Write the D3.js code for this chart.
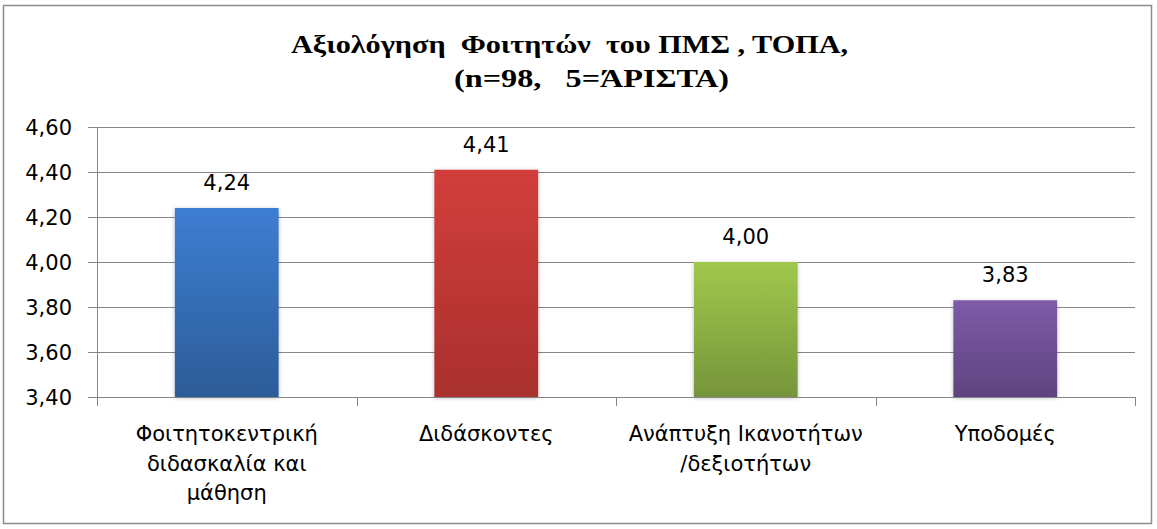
<!DOCTYPE html>
<html>
<head>
<meta charset="utf-8">
<style>
  body { margin: 0; background: #fff; }
  svg { display: block; }
  .tick text { font-family: "DejaVu Sans", sans-serif; font-size: 21px; fill: #000; }
</style>
</head>
<body>
<svg width="1157" height="529"></svg>
<script src="https://d3js.org/d3.v7.min.js"></script>
<script>
var categories = [
  ["Φοιτητοκεντρική", "διδασκαλία και", "μάθηση"],
  ["Διδάσκοντες"],
  ["Ανάπτυξη Ικανοτήτων", "/δεξιοτήτων"],
  ["Υποδομές"]
];
var values = [4.24, 4.41, 4.00, 3.83];
var yTicks = [3.4, 3.6, 3.8, 4.0, 4.2, 4.4, 4.6];
var barColors = [["#3d7ed2", "#2c5c98"], ["#d23e3b", "#a9302d"], ["#a0c84c", "#76953a"], ["#7f5ba9", "#5e437f"]];
var titleLines = ["Αξιολόγηση  Φοιτητών  του ΠΜΣ , ΤΟΠΑ,", "(n=98,   5=ΆΡΙΣΤΑ)"];

var svg = d3.select("svg");
var margin = {top: 127, right: 22, bottom: 132, left: 97},
    width = 1157 - margin.left - margin.right,
    height = 529 - margin.top - margin.bottom;

var labelFont = "'DejaVu Sans', sans-serif";

// outer frame
svg.append("rect")
  .attr("x", 3.5).attr("y", 5.5)
  .attr("width", 1148).attr("height", 518)
  .attr("fill", "#fff").attr("stroke", "#8c8c8c").attr("stroke-width", 1.5);

// title, stretched like the original (Times bold, wide)
var titlePos = [{x: 291, y: 53, w: 557}, {x: 454, y: 87, w: 275}];
svg.append("g")
  .attr("font-family", "'Liberation Serif', 'Times New Roman', serif")
  .attr("font-weight", "bold")
  .attr("font-size", 26)
  .selectAll("text").data(titleLines).enter().append("text")
  .attr("x", function(d, i) { return titlePos[i].x; })
  .attr("y", function(d, i) { return titlePos[i].y; })
  .attr("textLength", function(d, i) { return titlePos[i].w; })
  .attr("lengthAdjust", "spacingAndGlyphs")
  .style("white-space", "pre")
  .text(function(d) { return d; });

var defs = svg.append("defs");
barColors.forEach(function(c, i) {
  var grad = defs.append("linearGradient").attr("id", "g" + i)
    .attr("x1", 0).attr("y1", 0).attr("x2", 0).attr("y2", 1);
  grad.append("stop").attr("offset", "0%").attr("stop-color", c[0]);
  grad.append("stop").attr("offset", "100%").attr("stop-color", c[1]);
});
var shadow = defs.append("filter").attr("id", "shadow")
  .attr("x", "-20%").attr("y", "-10%").attr("width", "140%").attr("height", "125%");
shadow.append("feDropShadow").attr("dx", 0).attr("dy", 1).attr("stdDeviation", 2)
  .attr("flood-color", "#000").attr("flood-opacity", 0.25);

var g = svg.append("g").attr("transform", "translate(" + margin.left + "," + margin.top + ")");

var x = d3.scaleBand()
  .domain(d3.range(values.length))
  .range([0, width])
  .paddingInner(0.6)
  .paddingOuter(0.3);

var y = d3.scaleLinear()
  .domain([3.4, 4.6])
  .range([height, 0]);

var fmt = function(v) { return d3.format(".2f")(v).replace(".", ","); };

// gridlines
g.append("g")
  .selectAll("line").data(yTicks.slice(1)).enter().append("line")
  .attr("x1", 0).attr("x2", width)
  .attr("y1", function(d) { return Math.round(y(d)) + 0.5; })
  .attr("y2", function(d) { return Math.round(y(d)) + 0.5; })
  .attr("stroke", "#868686").attr("stroke-width", 1);

// y axis
var yAxis = g.append("g")
  .call(d3.axisLeft(y).tickValues(yTicks).tickFormat(fmt).tickSize(9).tickPadding(16));
yAxis.selectAll("line, path").attr("stroke", "#868686");
yAxis.select(".domain").attr("d", "M0.5," + height + "V0.5");
yAxis.selectAll(".tick text").attr("dy", "0.36em");

// bars
g.append("g")
  .selectAll("rect").data(values).enter().append("rect")
  .attr("x", function(d, i) { return x(i); })
  .attr("y", function(d) { return y(d); })
  .attr("width", x.bandwidth())
  .attr("height", function(d) { return height - y(d); })
  .attr("fill", function(d, i) { return "url(#g" + i + ")"; })
  .attr("filter", "url(#shadow)");

// value labels
g.append("g")
  .selectAll("text").data(values).enter().append("text")
  .attr("x", function(d, i) { return x(i) + x.bandwidth() / 2; })
  .attr("y", function(d) { return y(d) - 18; })
  .attr("text-anchor", "middle")
  .attr("font-family", labelFont)
  .attr("font-size", 21)
  .text(fmt);

// x axis
var xAxisG = g.append("g").attr("transform", "translate(0," + height + ")");
xAxisG.append("line").attr("x1", 0).attr("x2", width)
  .attr("y1", 0.5).attr("y2", 0.5).attr("stroke", "#868686");
var step = x.step();
xAxisG.selectAll(".xt").data(d3.range(values.length + 1)).enter().append("line")
  .attr("x1", function(i) { return Math.round(i * step) + 0.5; })
  .attr("x2", function(i) { return Math.round(i * step) + 0.5; })
  .attr("y1", 0).attr("y2", 9).attr("stroke", "#868686");

xAxisG.selectAll(".cat").data(categories).enter().append("text")
  .attr("text-anchor", "middle")
  .attr("font-family", labelFont)
  .attr("font-size", 21)
  .each(function(lines, i) {
    var t = d3.select(this);
    lines.forEach(function(l, j) {
      t.append("tspan")
        .attr("x", x(i) + x.bandwidth() / 2)
        .attr("y", 44 + j * 29.5)
        .text(l);
    });
  });
</script>
</body>
</html>
